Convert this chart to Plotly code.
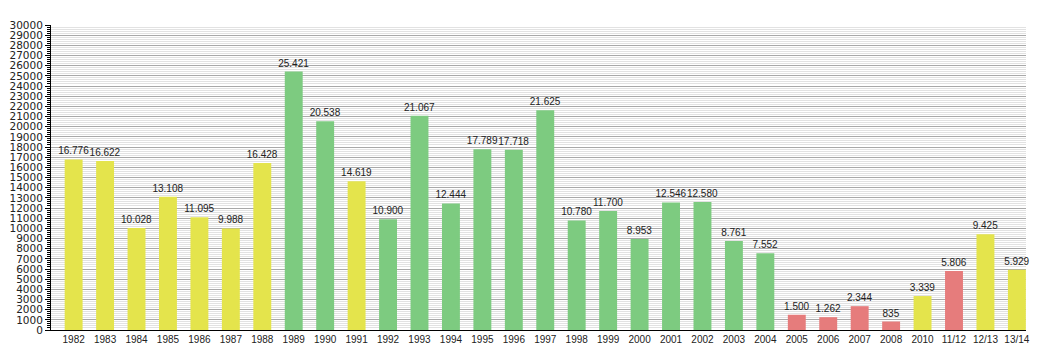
import plotly.graph_objects as go

categories = ["1982", "1983", "1984", "1985", "1986", "1987", "1988", "1989", "1990",
              "1991", "1992", "1993", "1994", "1995", "1996", "1997", "1998", "1999",
              "2000", "2001", "2002", "2003", "2004", "2005", "2006", "2007", "2008",
              "2010", "11/12", "12/13", "13/14"]
values = [16776, 16622, 10028, 13108, 11095, 9988, 16428, 25421, 20538,
          14619, 10900, 21067, 12444, 17789, 17718, 21625, 10780, 11700,
          8953, 12546, 12580, 8761, 7552, 1500, 1262, 2344, 835,
          3339, 5806, 9425, 5929]
groups = ["Y", "Y", "Y", "Y", "Y", "Y", "Y", "G", "G",
          "Y", "G", "G", "G", "G", "G", "G", "G", "G",
          "G", "G", "G", "G", "G", "R", "R", "R", "R",
          "Y", "R", "Y", "Y"]
palette = {"Y": "#E4E44C", "G": "#7DCB80", "R": "#E67C7C"}

labels = [f"{v:,}".replace(",", ".") for v in values]
colors = [palette[g] for g in groups]

fig = go.Figure(go.Bar(
    x=categories, y=values, marker_color=colors, marker_line_width=0,
    text=labels, textposition="outside", constraintext="none", cliponaxis=False,
    textfont=dict(family="Liberation Sans, Arial", size=10, color="#222"),
))

# page body has an 8px default margin, so the figure is shrunk by that offset
fig.update_layout(
    width=1037, height=352,
    margin=dict(l=43, r=19, t=17, b=30, autoexpand=False),
    plot_bgcolor="white", paper_bgcolor="white",
    bargap=0.43, showlegend=False,
    font=dict(family="Liberation Sans, Arial", size=10, color="#222"),
)
fig.update_xaxes(
    type="category", range=[-0.72, 30.29], automargin=False,
    showline=True, linecolor="black", linewidth=1,
    ticks="", showgrid=False,
    tickfont=dict(size=10, color="#222"),
)
fig.update_yaxes(
    range=[0, 30000], dtick=1000, tick0=0, tickformat="d", automargin=False,
    showline=True, linecolor="black", linewidth=1,
    ticks="outside", ticklen=5, tickcolor="black",
    showgrid=True, gridcolor="#A8A8A8", gridwidth=1, zeroline=False,
    tickfont=dict(family="DejaVu Sans", size=10.5, color="#222"),
    minor=dict(dtick=200, showgrid=True, gridcolor="#E2E2E2", gridwidth=1,
               ticks="outside", ticklen=3, tickcolor="black"),
)

fig.write_html("out.html")
